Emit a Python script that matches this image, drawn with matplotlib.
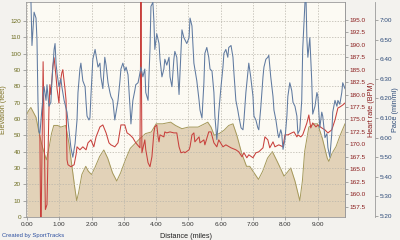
import matplotlib
matplotlib.use("Agg")
import matplotlib.pyplot as plt
from matplotlib.ticker import FuncFormatter

# ---- data ----
elev_mi = [0.0, 0.05, 0.12, 0.2, 0.28, 0.37, 0.45, 0.52, 0.6, 0.68, 0.76, 0.83, 0.95, 1.05, 1.2,
           1.3, 1.4, 1.48, 1.54, 1.6, 1.7, 1.82, 1.9, 2.0, 2.1, 2.25, 2.38, 2.5, 2.65, 2.78, 2.9,
           3.05, 3.2, 3.35, 3.5, 3.67, 3.85, 4.0, 4.2, 4.45, 4.6, 4.8, 5.0, 5.3, 5.5, 5.6, 5.7,
           5.8, 5.95, 6.1, 6.25, 6.38, 6.5, 6.65, 6.8, 6.9, 7.0, 7.17, 7.3, 7.45, 7.6, 7.75, 7.87,
           7.96, 8.05, 8.17, 8.3, 8.45, 8.53, 8.6, 8.73, 8.9, 9.0, 9.15, 9.3, 9.35, 9.45, 9.57,
           9.7, 9.85]
elev_ft = [63, 65, 67, 64, 61, 52, 45, 40, 35, 42, 51, 56, 56, 55, 56,
           45, 30, 18, 10, 15, 26, 31, 28, 26, 30, 37, 41, 36, 27, 22, 27,
           35, 42, 45, 48, 51, 52, 57, 57, 58, 56, 54, 55, 55, 57, 58, 55,
           50, 51, 53, 56, 57, 50, 39, 31, 31, 28, 23, 28, 36, 40, 34, 29,
           25, 27, 30, 22, 10, 22, 40, 55, 57, 57, 48, 36, 34, 39, 43,
           50, 57]

hr_mi = [0.40, 0.43, 0.50, 0.57, 0.62, 0.68, 0.71, 0.74, 0.80, 0.84, 0.90, 0.93, 0.99, 1.02, 1.08,
         1.11, 1.18, 1.21, 1.24, 1.27, 1.36, 1.46, 1.52, 1.55, 1.64, 1.73, 1.83, 1.89, 1.98, 2.07,
         2.14, 2.26, 2.35, 2.45, 2.54, 2.60, 2.72, 2.82, 2.91, 3.03, 3.10, 3.19, 3.28, 3.37, 3.50,
         3.53, 3.56, 3.65, 3.68, 3.75, 3.81, 3.87, 3.93, 3.96, 4.02, 4.06, 4.09, 4.12, 4.24, 4.27,
         4.33, 4.43, 4.55, 4.64, 4.71, 4.77, 4.86, 4.89, 5.02, 5.05, 5.11, 5.17, 5.20, 5.33, 5.36,
         5.48, 5.51, 5.63, 5.70, 5.79, 5.88, 5.94, 6.07, 6.16, 6.32, 6.47, 6.56, 6.66, 6.72, 6.81,
         6.87, 7.00, 7.09, 7.18, 7.31, 7.37, 7.46, 7.52, 7.62, 7.68, 7.80, 7.93, 7.99, 8.08, 8.20,
         8.27, 8.36, 8.39, 8.48, 8.54, 8.67, 8.73, 8.79, 8.85, 8.95, 9.01, 9.13, 9.23, 9.32, 9.44,
         9.54, 9.63, 9.69, 9.78, 9.85]
hr_bpm = [171.9, 150.0, 186.6, 156.9, 157.9, 176.9, 182.0, 180.0, 185.6, 187.4, 183.6, 181.3, 178.3, 182.0, 184.4,
          185.0, 181.0, 178.9, 166.9, 165.9, 165.5, 165.9, 167.9, 169.5, 168.9, 169.5, 168.9, 170.3, 170.9, 169.5,
          171.5, 173.5, 173.9, 172.3, 170.3, 169.9, 169.5, 170.3, 173.9, 173.9, 172.3, 171.9, 171.3, 170.3, 169.3,
          200.0, 168.3, 170.9, 168.9, 166.3, 165.5, 167.5, 172.3, 173.5, 173.9, 171.5, 170.5, 171.9, 171.5, 172.5,
          172.3, 172.5, 172.3, 172.3, 169.5, 168.3, 168.5, 168.3, 168.9, 169.5, 171.9, 172.3, 170.5, 171.5, 170.3,
          170.9, 169.9, 172.5, 172.5, 170.3, 169.5, 170.9, 169.5, 169.9, 169.3, 168.9, 168.5, 167.5, 168.3, 167.3,
          167.9, 167.3, 168.3, 168.5, 169.3, 171.5, 170.9, 169.3, 170.5, 169.5, 169.9, 169.5, 171.9, 171.9, 172.3,
          172.5, 171.5, 171.9, 171.5, 171.9, 174.3, 175.9, 173.3, 174.3, 173.5, 173.9, 173.3, 172.9, 172.3, 172.9,
          174.9, 177.3, 177.5, 177.9, 178.3]

pace_mi = [0.12, 0.155, 0.22, 0.28, 0.31, 0.34, 0.37, 0.40, 0.46, 0.53, 0.59, 0.62, 0.68, 0.74, 0.77,
           0.84, 0.87, 0.90, 0.93, 0.99, 1.05, 1.08, 1.15, 1.24, 1.30, 1.36, 1.42, 1.49, 1.55, 1.58,
           1.64, 1.67, 1.73, 1.80, 1.83, 1.86, 1.92, 1.95, 1.98, 2.04, 2.11, 2.14, 2.20, 2.26, 2.29,
           2.35, 2.41, 2.45, 2.51, 2.57, 2.60, 2.66, 2.72, 2.76, 2.82, 2.88, 2.91, 2.97, 3.03, 3.07,
           3.13, 3.19, 3.22, 3.28, 3.34, 3.37, 3.44, 3.50, 3.53, 3.59, 3.65, 3.68, 3.75, 3.81, 3.84,
           3.90, 3.93, 3.96, 4.02, 4.09, 4.12, 4.18, 4.24, 4.27, 4.33, 4.40, 4.43, 4.49, 4.55, 4.58,
           4.64, 4.71, 4.74, 4.80, 4.86, 4.89, 4.95, 5.02, 5.05, 5.11, 5.17, 5.20, 5.26, 5.33, 5.36,
           5.42, 5.48, 5.51, 5.57, 5.63, 5.67, 5.73, 5.79, 5.82, 5.88, 5.91, 5.94, 6.01, 6.07, 6.10,
           6.16, 6.22, 6.25, 6.32, 6.38, 6.41, 6.47, 6.53, 6.56, 6.63, 6.69, 6.72, 6.78, 6.84, 6.87,
           6.93, 7.00, 7.03, 7.09, 7.15, 7.18, 7.24, 7.31, 7.34, 7.40, 7.46, 7.49, 7.55, 7.62, 7.65,
           7.71, 7.77, 7.80, 7.86, 7.89, 7.93, 7.99, 8.05, 8.08, 8.14, 8.20, 8.24, 8.30, 8.36, 8.39,
           8.45, 8.51, 8.54, 8.61, 8.64, 8.67, 8.70, 8.76, 8.82, 8.85, 8.92, 8.98, 9.01, 9.07, 9.13,
           9.16, 9.23, 9.29, 9.32, 9.38, 9.44, 9.47, 9.54, 9.60, 9.63, 9.69, 9.75, 9.78, 9.85]
pace_sec = [432, 407, 424, 421, 410, 379, 363, 362, 374, 386, 379, 387, 376, 378, 388,
            405, 408, 398, 393, 386, 390, 386, 379, 373, 364, 355, 350, 357, 369, 383,
            395, 398, 389, 386, 378, 371, 369, 370, 381, 400, 405, 402, 396, 398, 391,
            385, 401, 397, 388, 383, 381, 379, 369, 373, 379, 389, 395, 398, 394, 396,
            392, 376, 367, 379, 384, 387, 388, 393, 396, 391, 395, 383, 379, 405, 427,
            429, 420, 405, 413, 408, 400, 391, 395, 400, 397, 401, 391, 386, 400, 404,
            401, 382, 393, 415, 411, 410, 408, 411, 421, 417, 398, 395, 389, 379, 374,
            370, 388, 403, 406, 401, 395, 394, 383, 371, 359, 365, 373, 386, 396, 403,
            405, 401, 406, 407, 401, 393, 379, 374, 371, 365, 364, 369, 383, 393, 398,
            391, 381, 371, 369, 365, 364, 375, 391, 396, 400, 401, 402, 391, 381, 374,
            369, 362, 360, 364, 362, 354, 359, 371, 381, 388, 384, 378, 376, 371, 362,
            364, 379, 405, 429, 433, 410, 401, 411, 389, 372, 376, 383, 381, 365, 373,
            371, 360, 362, 355, 350, 362, 373, 379, 376, 379, 377, 383, 388, 385]

x_ticks = [0, 1, 2, 3, 4, 5, 6, 7, 8, 9]
elev_ticks = list(range(0, 130, 10))
hr_ticks = [157.5, 160.0, 162.5, 165.0, 167.5, 170.0, 172.5, 175.0, 177.5, 180.0, 182.5,
            185.0, 187.5, 190.0, 192.5, 195.0]
pace_ticks = [320, 330, 340, 350, 360, 370, 380, 390, 400, 410, 420]

# ---- style ----
plt.rcParams["font.family"] = ["Liberation Sans", "DejaVu Sans"]
fig_bg = "#f3f2ee"
ax_bg = "#fcfaf3"
fill_c = "#e2d2b8"
fill_edge = "#a5985a"
elev_c = "#7f7326"
hr_c = "#c8403c"
hr_lab = "#8a1c1c"
pace_c = "#5f7aa0"
pace_lab = "#2c4a78"
tick_fs = 4.6
lab_fs = 5.2

fig = plt.figure(figsize=(4.0, 2.4), dpi=100, facecolor=fig_bg)
W = 319
ax = fig.add_axes([26 / 400, 1 - 217 / 240, W / 400, 215 / 240])
ax.set_facecolor(ax_bg)

ax.fill_between(elev_mi, 0, elev_ft, color=fill_c, zorder=1, linewidth=0)
ax.plot(elev_mi, elev_ft, color=fill_edge, lw=0.7, zorder=1.5)
ax.set_xlim(-0.03, 9.85)
ax.set_ylim(0, 131.5)
ax.set_axisbelow(False)
ax.grid(True, color="#b8b4aa", linestyle=(0, (2, 2)), linewidth=0.5)
ax.xaxis.set_major_locator(plt.FixedLocator(x_ticks))
ax.xaxis.set_major_formatter(FuncFormatter(lambda v, p: f"{v:.2f}"))
ax.set_yticks(elev_ticks)
ax.tick_params(axis="x", labelsize=tick_fs, colors="#888888", length=2, width=0.5, pad=1.5,
               labelcolor="#333333")
ax.tick_params(axis="y", labelsize=tick_fs, colors="#888888", length=2, width=0.5, pad=1.5,
               labelcolor="#6e6e22")
ax.set_xlabel("Distance (miles)", fontsize=lab_fs, color="#222222")
ax.xaxis.set_label_coords(0.5, (217 - 233) / 215)
ax.set_ylabel("Elevation (feet)", fontsize=lab_fs, color=elev_c)
ax.yaxis.set_label_coords((7 - 26) / W, 0.5)
for s in ax.spines.values():
    s.set_color("#9a9a9a")
    s.set_linewidth(0.6)

ax_hr = ax.twinx()
ax_hr.plot(hr_mi, hr_bpm, color=hr_c, lw=0.75, zorder=3)
ax_hr.set_ylim(155.4, 198.6)
ax_hr.set_yticks(hr_ticks)
ax_hr.yaxis.set_major_formatter(FuncFormatter(lambda v, p: f"{v:.1f}"))
ax_hr.tick_params(axis="y", labelsize=tick_fs, colors="#888888", length=2, width=0.5, pad=1.5,
                  labelcolor=hr_lab)
ax_hr.set_ylabel("Heart rate (BPM)", fontsize=lab_fs, color=hr_lab)
ax_hr.yaxis.set_label_coords((368 - 26) / W, 0.5)
for s in ax_hr.spines.values():
    s.set_visible(False)
ax_hr.spines["right"].set_visible(True)
ax_hr.spines["right"].set_color("#9a9a9a")
ax_hr.spines["right"].set_linewidth(0.6)

ax_p = ax.twinx()
ax_p.plot(pace_mi, pace_sec, color=pace_c, lw=0.75, zorder=4)
ax_p.set_ylim(319.5, 429.2)
ax_p.set_yticks(pace_ticks)
ax_p.yaxis.set_major_formatter(FuncFormatter(lambda v, p: f"{int(v) // 60}:{int(v) % 60:02d}"))
ax_p.spines["right"].set_position(("axes", (375 - 26) / W))
for s in ["top", "left", "bottom"]:
    ax_p.spines[s].set_visible(False)
ax_p.spines["right"].set_color("#9a9a9a")
ax_p.spines["right"].set_linewidth(0.6)
ax_p.tick_params(axis="y", labelsize=tick_fs, colors="#888888", length=2, width=0.5, pad=1.5,
                 labelcolor=pace_lab)
ax_p.set_ylabel("Pace (min/mi)", fontsize=lab_fs, color=pace_lab)
ax_p.yaxis.set_label_coords((392 - 26) / W, 0.5)

fig.text(2 / 400, 1 - 236 / 240, "Created by SportTracks", fontsize=4.2, color="#2c4fa0",
         ha="left", va="center")

fig.savefig("out.png", dpi=100, facecolor=fig_bg)
